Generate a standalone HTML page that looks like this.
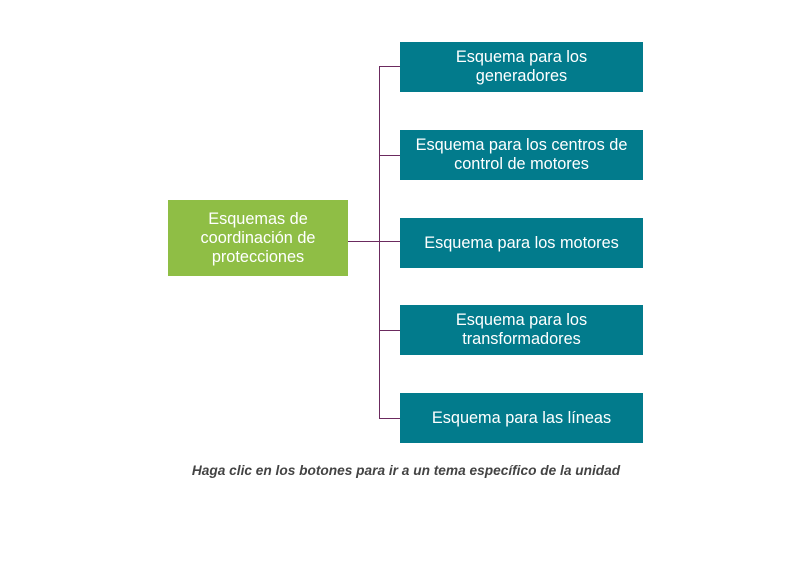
<!DOCTYPE html>
<html><head><style>
body{margin:0;width:810px;height:570px;background:#fff;position:relative;font-family:"Liberation Sans",sans-serif;overflow:hidden}
.b{position:absolute;left:400px;width:243px;height:50px;background:#027b8c;color:#fff;font-size:16.3px;display:flex;align-items:center;justify-content:center;text-align:center;line-height:19px}
.g{position:absolute;left:168px;top:200px;width:180px;height:76px;background:#8fbe45;color:#fff;font-size:16.3px;display:flex;align-items:center;justify-content:center;text-align:center;line-height:19px}
.l{position:absolute;background:#6b2a5e}
.c{position:absolute;top:463px;left:0;width:812px;text-align:center;font-style:italic;font-weight:bold;font-size:13.7px;color:#444}
</style></head><body>
<div class="l" style="left:379px;top:66px;width:1px;height:353px"></div>
<div class="l" style="left:348px;top:241px;width:52px;height:1px"></div>
<div class="l" style="left:379px;top:66px;width:21px;height:1px"></div>
<div class="l" style="left:379px;top:155px;width:21px;height:1px"></div>
<div class="l" style="left:379px;top:330px;width:21px;height:1px"></div>
<div class="l" style="left:379px;top:418px;width:21px;height:1px"></div>
<div class="g">Esquemas de<br>coordinación de<br>protecciones</div>
<div class="b" style="top:42px">Esquema para los<br>generadores</div>
<div class="b" style="top:130px">Esquema para los centros de<br>control de motores</div>
<div class="b" style="top:218px">Esquema para los motores</div>
<div class="b" style="top:305px">Esquema para los<br>transformadores</div>
<div class="b" style="top:393px">Esquema para las líneas</div>
<div class="c">Haga clic en los botones para ir a un tema específico de la unidad</div>
</body></html>
